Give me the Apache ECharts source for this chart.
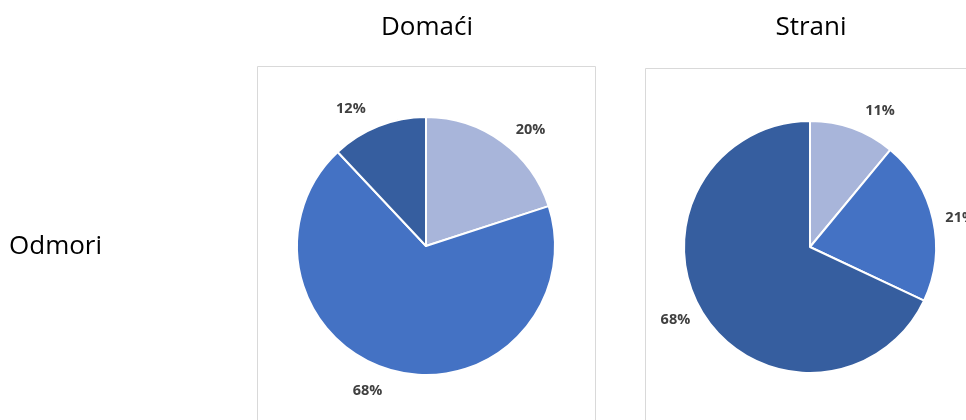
<!DOCTYPE html>
<html>
<head>
<meta charset="utf-8">
<script src="https://cdn.jsdelivr.net/npm/echarts@6/dist/echarts.min.js"></script>
<style>
  html, body { margin: 0; padding: 0; background: #fff; }
  #chart { width: 966px; height: 420px; }
</style>
</head>
<body>
<div id="chart"></div>
<script>
// data (clockwise from 12 o'clock)
var domaciValues = [20, 68, 12];
var straniValues = [11, 21, 68];
var sliceColors = ['#a8b5da', '#4472c4', '#365e9f'];
var columnTitles = ['Domaći', 'Strani'];
var rowTitle = 'Odmori';

var pieCenters = [[426, 246], [810, 247]];
var pieRadii = [129, 126];
var labelGap = 27;

var chart = echarts.init(document.getElementById('chart'));

function toData(values) {
    return values.map(function (v, i) {
        return { value: v, itemStyle: { color: sliceColors[i] } };
    });
}

// put the label's centre at a fixed distance outside the rim, like Excel does
function placeLabel(params) {
    var c = pieCenters[params.seriesIndex];
    var r = pieRadii[params.seriesIndex];
    var lr = params.labelRect;
    var mx = lr.x + lr.width / 2 - c[0];
    var my = lr.y + lr.height / 2 - c[1];
    var len = Math.sqrt(mx * mx + my * my);
    var d = r + labelGap;
    return {
        x: c[0] + mx / len * d,
        y: c[1] + my / len * d,
        align: 'center',
        verticalAlign: 'middle'
    };
}

function pieSeries(values, idx) {
    return {
        type: 'pie',
        left: 0,
        top: 0,
        width: 1200,
        height: 420,
        center: pieCenters[idx],
        radius: pieRadii[idx],
        startAngle: 90,
        clockwise: true,
        animation: false,
        silent: true,
        itemStyle: {
            borderColor: '#fff',
            borderWidth: 2
        },
        label: {
            show: true,
            position: 'outside',
            formatter: '{c}%',
            color: '#404040',
            fontSize: 14.5,
            fontWeight: 'bold',
            fontFamily: 'Open Sans',
            overflow: 'none'
        },
        labelLine: {
            show: false,
            length: 10,
            length2: 0
        },
        labelLayout: placeLabel,
        data: toData(values)
    };
}

var titleFont = '26px "Open Sans"';

var options = {
    backgroundColor: '#fff',
    graphic: [
        { type: 'rect', shape: { x: 257.5, y: 66.5, width: 338, height: 400 },
          style: { fill: 'none', stroke: '#d9d9d9', lineWidth: 1 } },
        { type: 'rect', shape: { x: 645.5, y: 68.5, width: 400, height: 400 },
          style: { fill: 'none', stroke: '#d9d9d9', lineWidth: 1 } },
        { type: 'text', x: 427, y: 28, style: { text: columnTitles[0], font: titleFont, fill: '#000', textAlign: 'center', textVerticalAlign: 'middle' } },
        { type: 'text', x: 811, y: 28, style: { text: columnTitles[1], font: titleFont, fill: '#000', textAlign: 'center', textVerticalAlign: 'middle' } },
        { type: 'text', x: 9, y: 247, style: { text: rowTitle, font: titleFont, fill: '#000', textAlign: 'left', textVerticalAlign: 'middle' } }
    ],
    series: [
        pieSeries(domaciValues, 0),
        pieSeries(straniValues, 1)
    ]
};

chart.setOption(options);
</script>
</body>
</html>
